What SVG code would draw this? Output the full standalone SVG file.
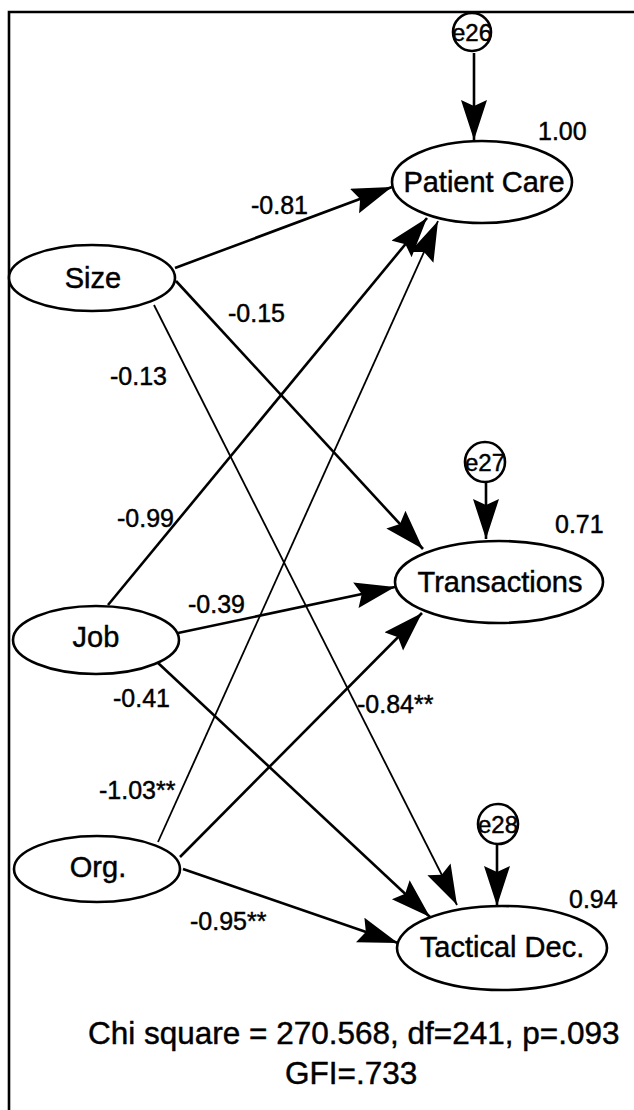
<svg xmlns="http://www.w3.org/2000/svg" width="634" height="1110" viewBox="0 0 634 1110">
  <style>
    .node ellipse, .node circle { fill: #fff; stroke: #000; stroke-width: 2.6; }
    text { font-family: "Liberation Sans", Arial, sans-serif; fill: #000; stroke: #000; stroke-width: 0.45; }
    .lbl { font-size: 29px; text-anchor: middle; }
    .err { font-size: 24px; text-anchor: middle; }
    .num { font-size: 25px; }
    .fit { font-size: 31.5px; }
    .edge { stroke: #000; stroke-width: 2.6; fill: none; marker-end: url(#head); }
    .edge.thin { stroke-width: 1.8; }
    .frame { stroke: #000; stroke-width: 2.6; fill: none; }
  </style>
  <defs>
    <marker id="head" markerUnits="userSpaceOnUse" markerWidth="42" markerHeight="28" refX="40" refY="13" orient="auto">
      <path d="M0,0 L40,13 L0,26 L6,13 Z" fill="#000"/>
    </marker>
  </defs>

  <rect width="634" height="1110" fill="#fff"/>

  <!-- frame -->
  <path class="frame" d="M9,1110 L9,12 L634,12"/>

  <!-- connectors -->
  <g id="connectors">
    <line class="edge" x1="474" y1="53" x2="474" y2="140"/>
    <line class="edge" x1="486" y1="482" x2="486" y2="539"/>
    <line class="edge" x1="497" y1="845" x2="497" y2="906"/>

    <line class="edge" x1="175" y1="268" x2="392" y2="187"/>
    <line class="edge" x1="176" y1="281" x2="423" y2="549"/>
    <line class="edge thin" x1="154" y1="305" x2="457" y2="905"/>

    <line class="edge" x1="108" y1="605" x2="427" y2="218"/>
    <line class="edge" x1="178" y1="633" x2="395" y2="587"/>
    <line class="edge" x1="157" y1="662" x2="430" y2="917"/>

    <line class="edge thin" x1="158" y1="842" x2="438" y2="221"/>
    <line class="edge" x1="180" y1="857" x2="422" y2="613"/>
    <line class="edge" x1="183" y1="869" x2="398" y2="943"/>
  </g>

  <!-- path coefficients -->
  <g id="coefficients">
    <text class="num" x="251" y="214">-0.81</text>
    <text class="num" x="228" y="322">-0.15</text>
    <text class="num" x="110" y="385">-0.13</text>
    <text class="num" x="117" y="527">-0.99</text>
    <text class="num" x="188" y="613">-0.39</text>
    <text class="num" x="113" y="707">-0.41</text>
    <text class="num" x="357" y="713">-0.84**</text>
    <text class="num" x="99" y="799">-1.03**</text>
    <text class="num" x="190" y="930">-0.95**</text>
    <text class="num" x="538" y="140">1.00</text>
    <text class="num" x="555" y="533">0.71</text>
    <text class="num" x="569" y="908">0.94</text>
  </g>

  <!-- exogenous factors -->
  <g id="size" class="node">
    <ellipse cx="92" cy="278" rx="83" ry="33"/>
    <text class="lbl" x="93" y="288">Size</text>
  </g>
  <g id="job" class="node">
    <ellipse cx="96" cy="640" rx="83" ry="34"/>
    <text class="lbl" x="96" y="647">Job</text>
  </g>
  <g id="org" class="node">
    <ellipse cx="97" cy="869" rx="83" ry="33"/>
    <text class="lbl" x="98" y="877">Org.</text>
  </g>

  <!-- outcome factors -->
  <g id="patient-care" class="node">
    <ellipse cx="482" cy="182" rx="90" ry="41"/>
    <text class="lbl" x="484" y="192">Patient Care</text>
  </g>
  <g id="transactions" class="node">
    <ellipse cx="499" cy="582" rx="104" ry="41"/>
    <text class="lbl" x="500" y="592">Transactions</text>
  </g>
  <g id="tactical-dec" class="node">
    <ellipse cx="502" cy="948" rx="105" ry="42"/>
    <text class="lbl" x="502" y="957">Tactical Dec.</text>
  </g>

  <!-- error terms -->
  <g id="e26" class="node">
    <circle cx="472" cy="32" r="19"/>
    <text class="err" x="472" y="41">e26</text>
  </g>
  <g id="e27" class="node">
    <circle cx="485" cy="462" r="20"/>
    <text class="err" x="485" y="471">e27</text>
  </g>
  <g id="e28" class="node">
    <circle cx="498" cy="824" r="20"/>
    <text class="err" x="498" y="833">e28</text>
  </g>

  <!-- fit statistics -->
  <g id="fit">
    <text class="fit" x="88" y="1044">Chi square = 270.568, df=241, p=.093</text>
    <text class="fit" x="285" y="1084">GFI=.733</text>
  </g>
</svg>
